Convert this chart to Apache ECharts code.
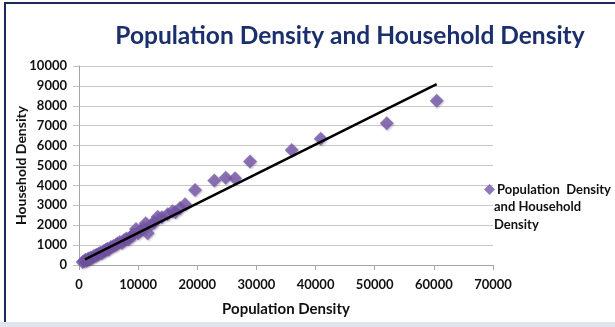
<!DOCTYPE html>
<html>
<head>
<meta charset="utf-8">
<script src="https://cdn.jsdelivr.net/npm/echarts@6/dist/echarts.min.js"></script>
<style>
  html, body { margin: 0; padding: 0; background: #ffffff; }
  #wrap { position: relative; width: 615px; height: 327px; overflow: hidden; background: #ffffff; }
  #frame { position: absolute; left: 4px; top: 2px; width: 640px; height: 319px;
           border-top: 2px solid #1b2a5c; border-left: 2px solid #1b2a5c; }
  #foot { position: absolute; left: 0; top: 322px; width: 615px; height: 5px; background: #e1e6ee; }
  #chart { position: absolute; left: 0; top: 0; width: 615px; height: 327px; }
</style>
</head>
<body>
<div id="wrap">
  <div id="frame"></div>
  <div id="foot"></div>
  <div id="chart"></div>
</div>
<script>
// Population density (x) against household density (y)
const populationDensity = [
  600, 900, 1100, 1300, 1500, 1700, 2000, 2200, 2500, 2800,
  3000, 3300, 3600, 3900, 4200, 4500, 4800, 5000, 5400, 5800,
  6200, 6500, 6900, 7300, 7600, 8000, 8400, 8800, 9200, 9640,
  10000, 10400, 10900, 11280, 11600, 12300, 12700, 13300, 14000, 15000,
  15800, 16300, 17080, 17920, 19610, 22880, 24800, 26380, 28910, 35960,
  40870, 52030, 60480
];
const householdDensity = [
  150, 200, 260, 220, 300, 330, 380, 350, 450, 480,
  520, 560, 620, 600, 700, 760, 820, 780, 900, 960,
  1000, 1080, 1150, 1120, 1250, 1330, 1300, 1450, 1550, 1810,
  1600, 1750, 1850, 2100, 1600, 2050, 2150, 2430, 2400, 2550,
  2700, 2650, 2860, 3050, 3770, 4240, 4390, 4355, 5200, 5780,
  6350, 7120, 8260
];
// Linear trend line end points
const trendX = [1010, 60480];
const trendY = [286, 9095];

const seriesName = 'Population Density and Household Density';
const legendLines = ['Population  Density', 'and Household', 'Density'];
const titleText = 'Population Density and Household Density';
const xAxisName = 'Population Density';
const yAxisName = 'Household Density';

const points = populationDensity.map((x, i) => [x, householdDensity[i]]);
const trend = trendX.map((x, i) => [x, trendY[i]]);

const chart = echarts.init(document.getElementById('chart'), null, { renderer: 'canvas' });
const fontFamily = 'Lato, "Liberation Sans", sans-serif';
const labelFont = { color: '#111111', fontWeight: 'bold', fontSize: 13, fontFamily: fontFamily };

chart.setOption({
  animation: false,
  backgroundColor: 'transparent',
  title: {
    text: titleText,
    left: 345, top: 19, textAlign: 'center',
    textStyle: { color: '#1a2f6b', fontSize: 24.5, fontWeight: 'bold', fontFamily: 'Lato, "Open Sans", sans-serif' }
  },
  legend: {
    left: 479, top: 178, orient: 'vertical',
    itemWidth: 11, itemHeight: 11, itemGap: 0,
    data: [{ name: seriesName, icon: 'diamond' }],
    formatter: () => legendLines[0],
    textStyle: { color: '#111111', fontWeight: 'bold', fontSize: 13, fontFamily: fontFamily, padding: [0, 0, 0, -3] }
  },
  graphic: [{
    type: 'text',
    left: 494, top: 198,
    style: {
      text: legendLines.slice(1).join('\n'),
      fill: '#111111', font: 'bold 13px ' + fontFamily, lineHeight: 18
    }
  }],
  grid: { left: 79, right: 122, top: 66, bottom: 62, containLabel: false },
  xAxis: {
    type: 'value', min: 0, max: 70000, interval: 10000,
    name: xAxisName, nameLocation: 'middle', nameGap: 37,
    nameTextStyle: { color: '#111111', fontWeight: 'bold', fontSize: 15, fontFamily: fontFamily },
    axisLine: { show: true, lineStyle: { color: '#a6a6a6', width: 1 } },
    axisTick: { show: true, length: 5, lineStyle: { color: '#a6a6a6' } },
    axisLabel: Object.assign({ margin: 13, formatter: v => String(v) }, labelFont),
    splitLine: { show: false }
  },
  yAxis: {
    type: 'value', min: 0, max: 10000, interval: 1000,
    name: yAxisName, nameLocation: 'middle', nameGap: 51, nameRotate: 90,
    nameMoveOverlap: false,
    nameTextStyle: { color: '#111111', fontWeight: 'bold', fontSize: 14, fontFamily: fontFamily },
    axisLine: { show: true, lineStyle: { color: '#a6a6a6', width: 1 } },
    axisTick: { show: true, length: 6, lineStyle: { color: '#bfbfbf' } },
    axisLabel: Object.assign({ margin: 12, formatter: v => String(v) }, labelFont),
    splitLine: { show: true, lineStyle: { color: '#c8c8c8', width: 1 } }
  },
  series: [
    {
      name: seriesName,
      type: 'scatter',
      symbol: 'diamond',
      symbolSize: 14,
      itemStyle: { color: '#7658a6', shadowColor: 'rgba(60,40,90,0.35)', shadowBlur: 2, shadowOffsetX: 1, shadowOffsetY: 1 },
      data: points,
      z: 2
    },
    {
      name: 'trend',
      type: 'line',
      data: trend,
      symbol: 'none',
      lineStyle: { color: '#000000', width: 2.5 },
      z: 3,
      silent: true
    }
  ]
});
</script>
</body>
</html>
